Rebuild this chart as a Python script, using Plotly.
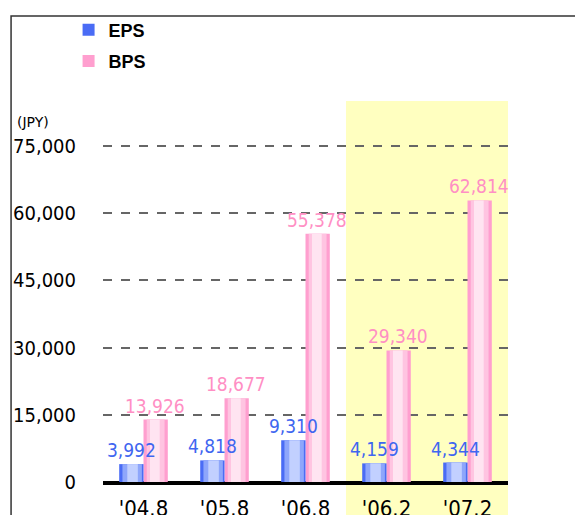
import plotly.graph_objects as go

periods = ["'04.8", "'05.8", "'06.8", "'06.2", "'07.2"]
eps = [3992, 4818, 9310, 4159, 4344]
bps = [13926, 18677, 55378, 29340, 62814]
y_ticks = [0, 15000, 30000, 45000, 60000, 75000]

NARROW = "DejaVu Sans Condensed, Liberation Sans Narrow, sans-serif"

fig = go.Figure()

# BPS drawn first so the EPS labels sit on top of it;
# bars drawn in layers to fake the gradient shading
fig.add_trace(go.Bar(x=periods, y=bps, name="BPS", legendgroup="b", legendrank=2,
                     width=0.3, offset=0,
                     marker=dict(color="#ff9fcf", line=dict(width=0))))
fig.add_trace(go.Bar(x=periods, y=bps, showlegend=False, width=0.22, offset=0.04,
                     marker=dict(color="#ffc4e1", line=dict(width=0)), hoverinfo="skip"))
fig.add_trace(go.Bar(x=periods, y=bps, showlegend=False, width=0.12, offset=0.08,
                     marker=dict(color="#ffe4f1", line=dict(width=0)),
                     text=[f"{v:,}" for v in bps], textposition="outside",
                     constraintext="none",
                     textfont=dict(color="#ff8fc4", size=19, family=NARROW),
                     cliponaxis=False, hoverinfo="skip"))
fig.add_trace(go.Bar(x=periods, y=eps, name="EPS", legendgroup="a", legendrank=1,
                     width=0.3, offset=-0.3,
                     marker=dict(color="#4a6cf5", line=dict(width=0))))
fig.add_trace(go.Bar(x=periods, y=eps, showlegend=False, width=0.24, offset=-0.26,
                     marker=dict(color="#8ea6fb", line=dict(width=0)), hoverinfo="skip"))
fig.add_trace(go.Bar(x=periods, y=eps, showlegend=False, width=0.13, offset=-0.2,
                     marker=dict(color="#c2d0ff", line=dict(width=0)), hoverinfo="skip"))
# label-only layer centred on the EPS bar
fig.add_trace(go.Bar(x=periods, y=eps, showlegend=False, width=0.3, offset=-0.3,
                     marker=dict(color="rgba(0,0,0,0)", line=dict(width=0)),
                     text=[f"{v:,}" for v in eps], textposition="outside",
                     constraintext="none",
                     textfont=dict(color="#3f66f0", size=19, family=NARROW),
                     cliponaxis=False, hoverinfo="skip"))

fig.update_layout(
    width=583, height=515,
    margin=dict(l=95, r=83, t=93, b=41, autoexpand=False),
    paper_bgcolor="white", plot_bgcolor="rgba(0,0,0,0)",
    barmode="overlay",
    showlegend=True,
    legend=dict(x=-0.085, y=1.235, xanchor="left", yanchor="top",
                font=dict(size=18, color="black", family="Liberation Sans", weight="bold"),
                bgcolor="rgba(0,0,0,0)", tracegroupgap=5, itemwidth=30),
    shapes=[
        dict(type="rect", xref="x", yref="paper", x0=2.5, x1=4.5, y0=-0.2, y1=1.0,
             fillcolor="#ffffc0", line=dict(width=0), layer="below"),
        dict(type="rect", xref="paper", yref="paper", x0=-0.227, x1=1.3, y0=-0.3, y1=1.223,
             line=dict(color="#333333", width=1.5), fillcolor="rgba(0,0,0,0)"),
    ],
    annotations=[
        dict(text="(JPY)", xref="paper", yref="paper", x=-0.227, y=0.945,
             xanchor="left", yanchor="middle", showarrow=False,
             font=dict(size=14, color="black", family="DejaVu Sans"), xshift=4),
    ],
)

fig.update_yaxes(range=[0, 85000], tickvals=y_ticks, tickformat=",",
                 showgrid=True, gridcolor="#666666", griddash="dash", gridwidth=1.5,
                 zeroline=True, zerolinecolor="black", zerolinewidth=3,
                 ticks="outside", ticklen=22, tickcolor="rgba(0,0,0,0)",
                 tickfont=dict(size=20, color="black", family=NARROW),
                 showline=False)
fig.update_xaxes(showgrid=False, showline=True, linecolor="black", linewidth=3,
                 ticks="outside", ticklen=5, tickcolor="rgba(0,0,0,0)",
                 tickfont=dict(size=22, color="black", family=NARROW))

fig.write_html("out.html")
